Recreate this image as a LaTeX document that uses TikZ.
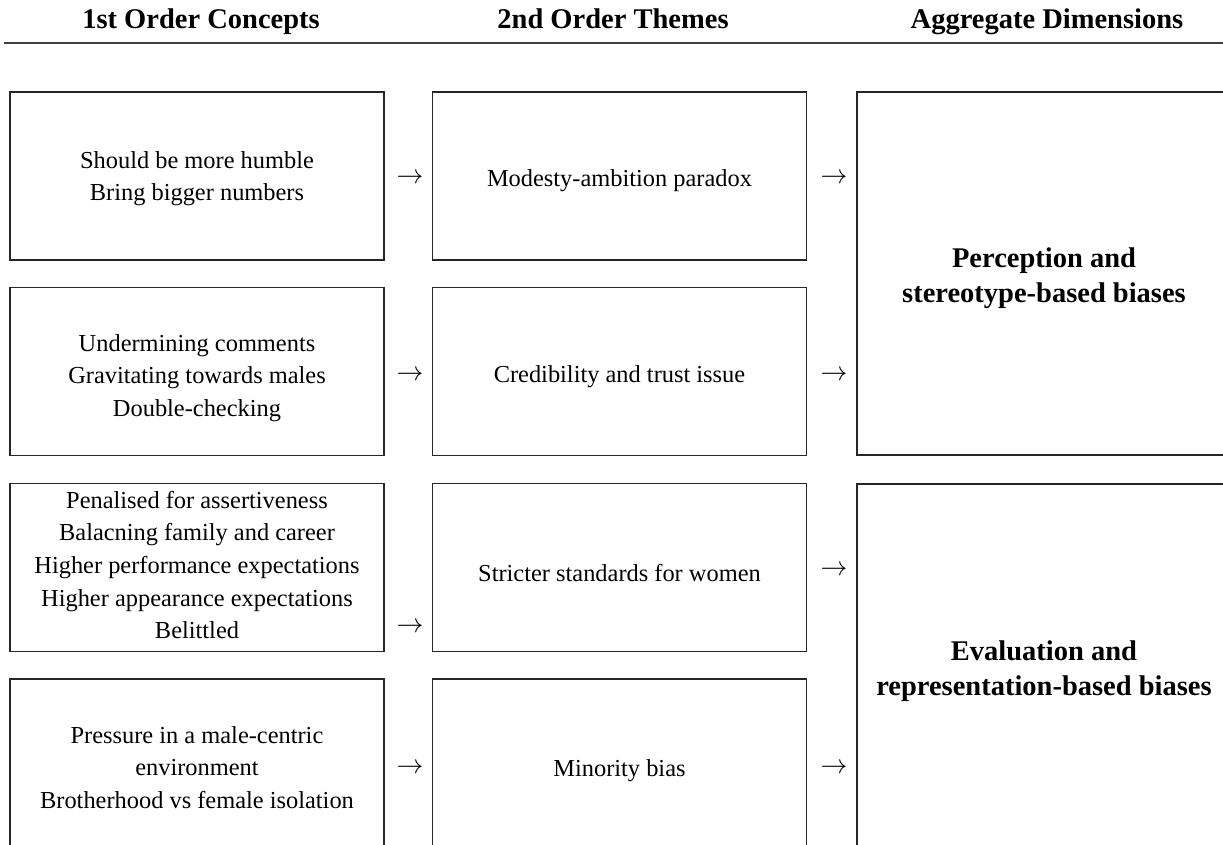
\documentclass[tikz,border=0pt]{standalone}
\usepackage{fontspec}
\usepackage{graphicx}
\setmainfont{Liberation Serif}
\usetikzlibrary{positioning}
\newcommand{\bodyfont}{\fontsize{24.4}{32.6}\selectfont}
\newcommand{\headfont}{\fontsize{28.5}{35}\selectfont\bfseries}
\newcommand{\rarr}{\scalebox{1.08}{$\rightarrow$}}

\begin{document}
\begin{tikzpicture}[x=1pt,y=-1pt,
    box/.style={draw=black!85,line width=1.2pt,minimum width=374pt,minimum height=168pt,inner sep=0pt},
    aggbox/.style={box,minimum height=363pt},
    txt/.style={align=center,inner sep=0pt,font=\bodyfont},
    aggtxt/.style={txt,font=\headfont},
    head/.style={font=\headfont,anchor=base},
    arr/.style={font=\bodyfont,inner sep=0pt}]
  \clip (0,0) rectangle (1223,844);
  % column heads
  \node[head] (h1) at (201,28) {1st Order Concepts};
  \node[head] (h2) at (613,28) {2nd Order Themes};
  \node[head] (h3) at (1047,28) {Aggregate Dimensions};
  \draw[line width=1.5pt,black!75] (4,43) -- (1223,43);
  % 1st order
  \node[box] (c1) at (197,176) {};
  \node[box] (c2) at (197,371.5) {};
  \node[box] (c3) at (197,567.5) {};
  \node[box] (c4) at (197,763) {};
  \node[txt] (c1txt) at (197,178.5) {Should be more humble\\Bring bigger numbers};
  \node[txt] (c2txt) at (197,378) {Undermining comments\\Gravitating towards males\\Double-checking};
  \node[txt] (c3txt) at (197,565) {Penalised for assertiveness\\Balacning family and career\\Higher performance expectations\\Higher appearance expectations\\Belittled};
  \node[txt] (c4txt) at (197,767.5) {Pressure in a male-centric\\environment\\Brotherhood vs female isolation};
  % 2nd order
  \node[box] (t1) at (619.5,176) {};
  \node[box] (t2) at (619.5,371.5) {};
  \node[box] (t3) at (619.5,567.5) {};
  \node[box] (t4) at (619.5,763) {};
  \node[txt] (t1txt) at (619.5,181) {Modesty-ambition paradox};
  \node[txt] (t2txt) at (619.5,377) {Credibility and trust issue};
  \node[txt] (t3txt) at (619.5,573) {Stricter standards for women};
  \node[txt] (t4txt) at (619.5,771) {Minority bias};
  % aggregate
  \node[aggbox] (d1) at (1044,273.5) {};
  \node[aggbox] (d2) at (1044,665.5) {};
  \node[aggtxt] (d1txt) at (1044,278.5) {Perception and\\stereotype-based biases};
  \node[aggtxt] (d2txt) at (1044,671.5) {Evaluation and\\representation-based biases};
  % arrows
  \foreach \i/\yl/\yr in {1/179/179,2/376/376,3/628/571,4/769/769}{
    \node[arr] (l\i) at (410,\yl) {\rarr};
    \node[arr] (r\i) at (834,\yr) {\rarr};
  }
\end{tikzpicture}
\end{document}
